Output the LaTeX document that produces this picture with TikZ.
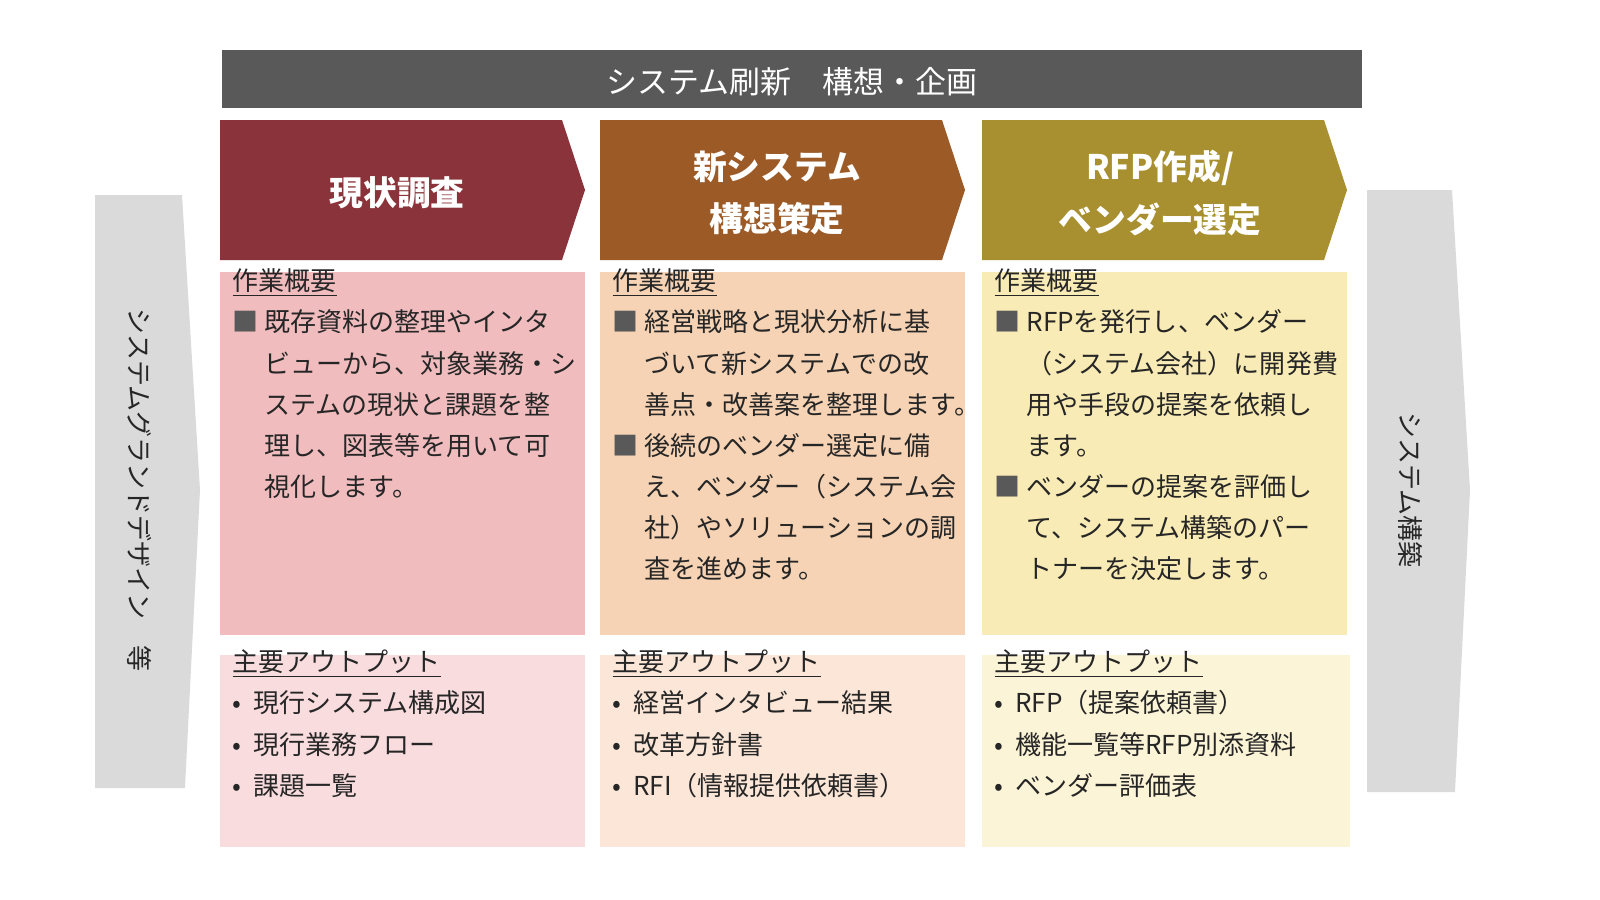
\documentclass[tikz,border=0pt]{standalone}
\usepackage{fontspec}
\setmainfont{Noto Sans CJK JP}
\usetikzlibrary{positioning}
\definecolor{barGray}{HTML}{595959}
\definecolor{redHead}{HTML}{8B333B}
\definecolor{brownHead}{HTML}{9C5A27}
\definecolor{oliveHead}{HTML}{A88F2F}
\definecolor{redBody}{HTML}{F0BCBE}
\definecolor{brownBody}{HTML}{F6D3B4}
\definecolor{oliveBody}{HTML}{F8EBB5}
\definecolor{redOut}{HTML}{F8DCDE}
\definecolor{brownOut}{HTML}{FBE6D7}
\definecolor{oliveOut}{HTML}{FCF4D7}
\definecolor{sideGray}{HTML}{DADADA}
\definecolor{txt}{HTML}{262626}
\newcommand{\sq}{{\color{barGray}■}\ }
\newcommand{\ind}{\phantom{■}\ }
\newcommand{\dt}{•\ \ }
\newcommand{\ul}[1]{\underline{\smash{#1}}}
\begin{document}
\begin{tikzpicture}[x=0.01cm,y=-0.01cm,
    body/.style={anchor=north west, align=left, font=\fontsize{7.4pt}{11.7pt}\selectfont, text=txt, inner sep=0pt},
    head/.style={text=white, font=\fontsize{9.6pt}{15pt}\selectfont\bfseries, align=center},
    side/.style={font=\fontsize{7.4pt}{8pt}\selectfont, text=txt, rotate=-90}
]
\useasboundingbox (0,0) rectangle (1600,900);
% side arrows
\fill[sideGray] (95,195) -- (182,195) -- (200,490) -- (185,788) -- (95,788) -- cycle;
\fill[sideGray] (1367,190) -- (1452,190) -- (1470,490) -- (1455,792) -- (1367,792) -- cycle;
\node[side] (left) at (140,490) {システムグランドデザイン　等};
\node[side] (right) at (1410,490) {システム構築};
% title bar
\fill[barGray] (222,50) rectangle (1362,108);
\node[text=white, font=\fontsize{8.8pt}{10pt}\selectfont] (title) at (792,82) {システム刷新　構想・企画};
% chevrons
\fill[redHead] (220,120) -- (562,120) -- (585,190) -- (562,260) -- (220,260) -- cycle;
\fill[brownHead] (600,120) -- (942,120) -- (965,190) -- (942,260) -- (600,260) -- cycle;
\fill[oliveHead] (982,120) -- (1324,120) -- (1347,190) -- (1324,260) -- (982,260) -- cycle;
\node[head] (h1) at (397,193) {現状調査};
\node[head] (h2) at (777,193) {新システム\\構想策定};
\node[head] (h3) at (1160,193) {RFP作成/\\ベンダー選定};
% body boxes
\fill[redBody] (220,272) rectangle (585,635);
\fill[brownBody] (600,272) rectangle (965,635);
\fill[oliveBody] (982,272) rectangle (1347,635);
\fill[redOut] (220,655) rectangle (585,847);
\fill[brownOut] (600,655) rectangle (965,847);
\fill[oliveOut] (982,655) rectangle (1350,847);
\node[body] (b1) at (232,290) {\ul{作業概要}\\
\sq 既存資料の整理やインタ\\
\ind ビューから、対象業務・シ\\
\ind ステムの現状と課題を整\\
\ind 理し、図表等を用いて可\\
\ind 視化します。};
\node[body] (b2) at (612,290) {\ul{作業概要}\\
\sq 経営戦略と現状分析に基\\
\ind づいて新システムでの改\\
\ind 善点・改善案を整理します。\\
\sq 後続のベンダー選定に備\\
\ind え、ベンダー（システム会\\
\ind 社）やソリューションの調\\
\ind 査を進めます。};
\node[body] (b3) at (994,290) {\ul{作業概要}\\
\sq RFPを発行し、ベンダー\\
\ind （システム会社）に開発費\\
\ind 用や手段の提案を依頼し\\
\ind ます。\\
\sq ベンダーの提案を評価し\\
\ind て、システム構築のパー\\
\ind トナーを決定します。};
\node[body] (o1) at (232,671) {\ul{主要アウトプット}\\
\dt 現行システム構成図\\
\dt 現行業務フロー\\
\dt 課題一覧};
\node[body] (o2) at (612,671) {\ul{主要アウトプット}\\
\dt 経営インタビュー結果\\
\dt 改革方針書\\
\dt RFI（情報提供依頼書）};
\node[body] (o3) at (994,671) {\ul{主要アウトプット}\\
\dt RFP（提案依頼書）\\
\dt 機能一覧等RFP別添資料\\
\dt ベンダー評価表};
\end{tikzpicture}
\end{document}
